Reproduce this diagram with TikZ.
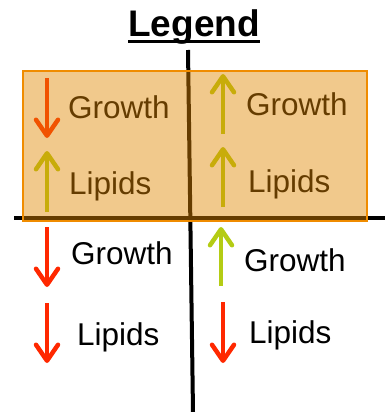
\documentclass[tikz,border=0pt]{standalone}
\usepackage{fontspec}
\setmainfont{Liberation Sans}
\usepackage{tikz}
\usetikzlibrary{arrows.meta}
\definecolor{upgreen}{RGB}{180,204,20}
\definecolor{downred}{RGB}{255,40,0}
\definecolor{boxfill}{RGB}{225,135,0}
\definecolor{boxline}{RGB}{240,140,0}
\tikzset{trend/.style={line width=4.5pt, -{Straight Barb[length=16pt,width=22pt,line cap=round,line join=round]}},
    lbl/.style={anchor=base west, inner sep=0pt, font=\fontsize{31.5}{38}\selectfont}}

\begin{document}
\begin{tikzpicture}[x=1pt,y=-1pt]
    \useasboundingbox (0,0) rectangle (385,412);
    \node [anchor=base, inner sep=0pt, font=\fontsize{37}{42}\selectfont\bfseries] (title) at (194,37) {Legend};
    \draw [line width=3pt] ([yshift=-5pt]title.base west) -- ([yshift=-5pt]title.base east);
    % axes
    \draw [line width=4pt] (188,50) coordinate (top) -- (193,412) coordinate (bottom);
    \draw [line width=4pt] (14,218) coordinate (left) -- (385,218) coordinate (right);
    % upper left
    \draw [trend, downred] (47,78) -- (47,138);
    \node [lbl] (gUL) at (68,118) {Growth};
    \draw [trend, upgreen] (47,212) -- (47,151);
    \node [lbl] (lUL) at (69,194) {Lipids};
    % upper right
    \draw [trend, upgreen] (223,134) -- (223,74);
    \node [lbl] (gUR) at (246,115) {Growth};
    \draw [trend, upgreen] (223,207) -- (223,147);
    \node [lbl] (lUR) at (248,192) {Lipids};
    % lower left
    \draw [trend, downred] (47,227) -- (47,287);
    \node [lbl] (gLL) at (71,264) {Growth};
    \draw [trend, downred] (47,303) -- (47,363);
    \node [lbl] (lLL) at (77,345) {Lipids};
    % lower right
    \draw [trend, upgreen] (221,286) -- (221,227);
    \node [lbl] (gLR) at (244,271) {Growth};
    \draw [trend, downred] (223,302) -- (223,363);
    \node [lbl] (lLR) at (249,343) {Lipids};
    % highlight box over the top half
    \draw [boxline, line width=1.5pt, fill=boxfill, fill opacity=0.45] (23,71) rectangle (367,221);
\end{tikzpicture}
\end{document}
